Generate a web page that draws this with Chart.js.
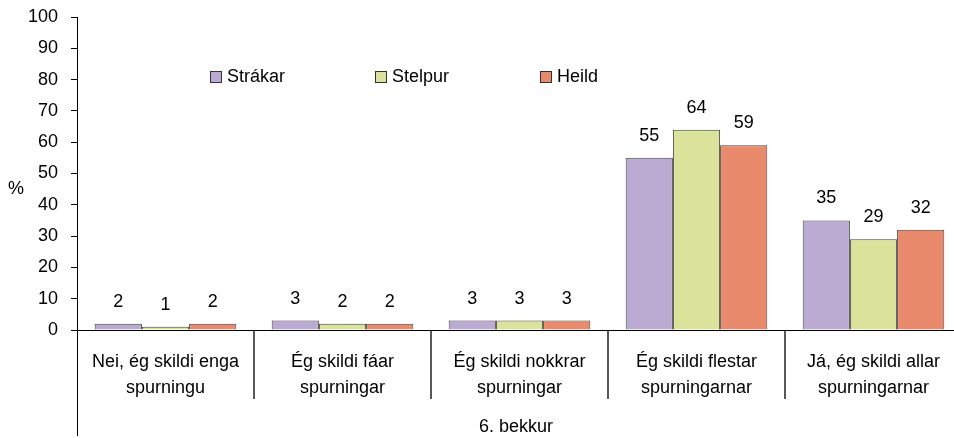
<!DOCTYPE html>
<html>
<head>
<meta charset="utf-8">
<script src="https://cdn.jsdelivr.net/npm/chart.js@4"></script>
<style>
  html, body { margin: 0; padding: 0; background: #fff; overflow: hidden; }
  #wrap { width: 962px; height: 438px; }
</style>
</head>
<body>
<div id="wrap"><canvas id="chart" width="962" height="438"></canvas></div>
<script>
// Gögn lesin af myndinni
const categories = [
  ["Nei, ég skildi enga", "spurningu"],
  ["Ég skildi fáar", "spurningar"],
  ["Ég skildi nokkrar", "spurningar"],
  ["Ég skildi flestar", "spurningarnar"],
  ["Já, ég skildi allar", "spurningarnar"]
];
const seriesNames = ["Strákar", "Stelpur", "Heild"];
const strakar = [2, 3, 3, 55, 35];
const stelpur = [1, 2, 3, 64, 29];
const heild = [2, 2, 3, 59, 32];
const yTicks = [0, 10, 20, 30, 40, 50, 60, 70, 80, 90, 100];
const groupLabel = "6. bekkur";
const axisTitle = "%";

const colors = ["#bbabd3", "#dbe39b", "#ea8a6d"];
const FONT = "'Liberation Sans', Arial, sans-serif";

// Gildi ofan á súlum, sérsniðin skýring og aðgreiningarlínur
const extras = {
  id: "extras",
  afterDatasetsDraw(chart) {
    const ctx = chart.ctx;
    const area = chart.chartArea;
    const x = chart.scales.x;
    ctx.save();
    ctx.fillStyle = "#000";
    ctx.font = "18px " + FONT;
    ctx.textAlign = "center";
    ctx.textBaseline = "middle";
    chart.data.datasets.forEach((ds, i) => {
      chart.getDatasetMeta(i).data.forEach((bar, j) => {
        ctx.fillText(String(ds.data[j]), bar.x, bar.y - 22);
      });
    });

    // skýring inni í teiknisvæði
    const legendX = [210, 375, 540];
    ctx.textAlign = "left";
    seriesNames.forEach((name, i) => {
      ctx.fillStyle = colors[i];
      ctx.fillRect(legendX[i] + 0.5, 71.5, 11, 11);
      ctx.strokeStyle = "#333";
      ctx.lineWidth = 1;
      ctx.strokeRect(legendX[i] + 0.5, 71.5, 11, 11);
      ctx.fillStyle = "#000";
      ctx.fillText(name, legendX[i] + 17, 77);
    });

    // aðgreiningarlínur milli flokka
    ctx.strokeStyle = "#222";
    ctx.lineWidth = 1.5;
    const step = x.getPixelForValue(1) - x.getPixelForValue(0);
    for (let i = 1; i < categories.length; i++) {
      const px = Math.round(x.getPixelForValue(i) - step / 2);
      ctx.beginPath();
      ctx.moveTo(px, area.bottom);
      ctx.lineTo(px, 399);
      ctx.stroke();
    }

    // y-ás framlengdur niður
    ctx.lineWidth = 1;
    ctx.strokeStyle = "#000";
    ctx.beginPath();
    ctx.moveTo(area.left + 0.5, area.bottom);
    ctx.lineTo(area.left + 0.5, 436);
    ctx.stroke();

    ctx.fillStyle = "#000";
    ctx.textAlign = "center";
    ctx.font = "18px " + FONT;
    ctx.fillText(groupLabel, 516, 427);
    ctx.fillText(axisTitle, 16, 189);
    ctx.restore();
  }
};

new Chart(document.getElementById("chart"), {
  type: "bar",
  data: {
    labels: categories,
    datasets: [
      { label: seriesNames[0], data: strakar },
      { label: seriesNames[1], data: stelpur },
      { label: seriesNames[2], data: heild }
    ].map((d, i) => Object.assign(d, {
      backgroundColor: colors[i],
      borderColor: "#444",
      borderWidth: 1,
      categoryPercentage: 0.8,
      barPercentage: 1
    }))
  },
  options: {
    responsive: false,
    animation: false,
    layout: { padding: { top: 17, right: 0, bottom: 0, left: 0 } },
    plugins: {
      legend: { display: false },
      tooltip: { enabled: false }
    },
    scales: {
      x: {
        grid: { display: false },
        border: { display: true, color: "#000", width: 1 },
        ticks: {
          color: "#000",
          font: { family: FONT, size: 18, lineHeight: 1.44 },
          padding: 11,
          maxRotation: 0,
          autoSkip: false
        },
        afterFit(scale) {
          scale.height = 108;
          scale.paddingLeft = 0;
          scale.paddingRight = 0;
        }
      },
      y: {
        min: 0,
        max: 100,
        afterBuildTicks(scale) { scale.ticks = yTicks.map(v => ({ value: v })); },
        grid: { drawOnChartArea: false, drawTicks: true, tickLength: 6, color: "#000" },
        border: { display: true, color: "#000", width: 1 },
        ticks: {
          color: "#000",
          font: { family: FONT, size: 18 },
          padding: 13
        },
        afterFit(scale) {
          scale.width = 77;
          scale.paddingTop = 0;
          scale.paddingBottom = 0;
        }
      }
    }
  },
  plugins: [extras]
});
</script>
</body>
</html>
